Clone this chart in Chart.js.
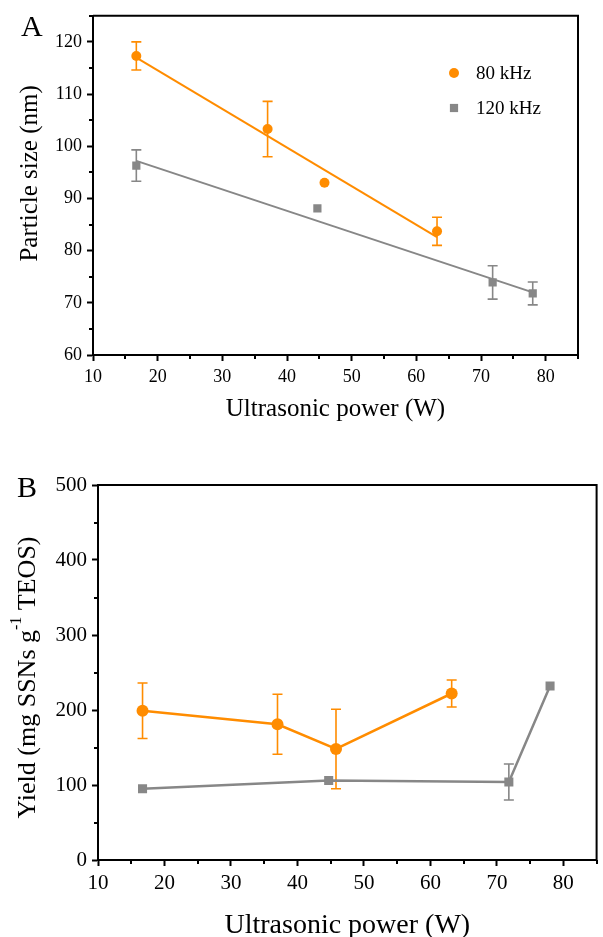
<!DOCTYPE html>
<html>
<head>
<meta charset="utf-8">
<script src="https://cdn.jsdelivr.net/npm/chart.js@4.4.1/dist/chart.umd.min.js"></script>
<style>
  body { margin: 0; background: #fff; width: 603px; height: 937px; position: relative; overflow: hidden; font-family: "Liberation Serif", serif; }
  .box { position: absolute; left: 0; width: 603px; }
  .tag { position: absolute; font-size: 30px; color: #000; line-height: 1; }
</style>
</head>
<body>
<div class="box" style="top:0;height:430px"><canvas id="chartA"></canvas></div>
<div class="box" style="top:455px;height:492px"><canvas id="chartB"></canvas></div>
<div class="tag" style="left:21px;top:11px">A</div>
<div class="tag" style="left:17px;top:472px">B</div>
<script>
// panel A - particle size vs ultrasonic power
const powerA80 = [16.7, 37.0, 45.8, 63.2];
const sizeA80 = [117.3, 103.3, 93.0, 83.7];
const sizeA80Err = [2.7, 5.3, 0, 2.7];
const powerA120 = [16.7, 44.7, 71.8, 78.0];
const sizeA120 = [96.3, 88.1, 73.9, 71.8];
const sizeA120Err = [3.0, 0, 3.2, 2.2];
// fitted lines, end points
const fitX80 = [16.7, 63.2];
const fitY80 = [117.0, 82.6];
const fitX120 = [16.7, 78.0];
const fitY120 = [97.2, 72.0];

// panel B - yield vs ultrasonic power
const yieldPower80 = [16.7, 37.0, 45.8, 63.2];
const yield80 = [199, 181, 148, 222];
const yield80Err = [37, 40, 53, 18];
const yieldPower120 = [16.7, 44.7, 71.8, 78.0];
const yield120 = [95, 106, 104, 232];
const yield120Err = [0, 0, 24, 0];

const seriesNames = ['80 kHz', '120 kHz'];

const ORANGE = '#ff8c00';
const GREY = '#878787';
const FONT = '"Liberation Serif", serif';

const pts = (xs, ys) => xs.map((x, i) => ({ x: x, y: ys[i] }));

function marker(ctx, style, r, x, y, color) {
  ctx.fillStyle = color;
  ctx.beginPath();
  if (style === 'circle') {
    ctx.arc(x, y, r, 0, Math.PI * 2);
  } else {
    const h = r / Math.SQRT2;
    ctx.rect(x - h, y - h, h * 2, h * 2);
  }
  ctx.fill();
}

const errorBars = {
  id: 'errorBars',
  beforeDatasetsDraw(chart) {
    const ctx = chart.ctx, xs = chart.scales.x, ys = chart.scales.y;
    chart.data.datasets.forEach(ds => {
      if (!ds.errors) return;
      ctx.save();
      ctx.strokeStyle = ds.barColor;
      ctx.lineWidth = 1.6;
      ds.data.forEach((p, i) => {
        const e = ds.errors[i];
        if (!e) return;
        const px = xs.getPixelForValue(p.x);
        const t = ys.getPixelForValue(p.y + e), b = ys.getPixelForValue(p.y - e);
        ctx.beginPath();
        ctx.moveTo(px, t); ctx.lineTo(px, b);
        ctx.moveTo(px - 5, t); ctx.lineTo(px + 5, t);
        ctx.moveTo(px - 5, b); ctx.lineTo(px + 5, b);
        ctx.stroke();
      });
      ctx.restore();
    });
  }
};

// top/right frame plus short minor ticks between the labelled ones
const frame = {
  id: 'frame',
  afterDraw(chart) {
    const a = chart.chartArea, ctx = chart.ctx, xs = chart.scales.x, ys = chart.scales.y;
    ctx.save();
    ctx.strokeStyle = '#000';
    ctx.lineWidth = 2;
    ctx.beginPath();
    ctx.moveTo(a.left, a.top); ctx.lineTo(a.right, a.top); ctx.lineTo(a.right, a.bottom);
    ctx.stroke();
    ctx.beginPath();
    const sx = xs.options.ticks.stepSize, sy = ys.options.ticks.stepSize;
    for (let v = xs.min + sx / 2; v <= xs.max; v += sx) {
      const p = Math.round(xs.getPixelForValue(v));
      ctx.moveTo(p, a.bottom); ctx.lineTo(p, a.bottom + 4);
    }
    for (let v = ys.min + sy / 2; v <= ys.max; v += sy) {
      const p = Math.round(ys.getPixelForValue(v));
      ctx.moveTo(a.left, p); ctx.lineTo(a.left - 4, p);
    }
    ctx.stroke();
    ctx.restore();
  }
};

const insideLegend = {
  id: 'insideLegend',
  afterDraw(chart, args, o) {
    if (!o.items) return;
    const ctx = chart.ctx;
    ctx.save();
    o.items.forEach((it, k) => {
      const ds = chart.data.datasets[it];
      const y = o.y + k * o.gap;
      if (o.line) {
        ctx.strokeStyle = ds.borderColor;
        ctx.lineWidth = ds.borderWidth;
        ctx.beginPath();
        ctx.moveTo(o.x - o.lineLen / 2, y); ctx.lineTo(o.x + o.lineLen / 2, y);
        ctx.stroke();
      }
      marker(ctx, ds.pointStyle, ds.pointRadius, o.x, y, ds.pointBackgroundColor);
      ctx.fillStyle = '#000';
      ctx.font = o.size + 'px ' + FONT;
      ctx.textBaseline = 'middle';
      ctx.fillText(ds.label, o.textX, y + 1);
    });
    ctx.restore();
  }
};

const yTitle = {
  id: 'yTitle',
  afterDraw(chart, args, o) {
    if (!o.parts) return;
    const ctx = chart.ctx, a = chart.chartArea;
    ctx.save();
    ctx.translate(o.x, (a.top + a.bottom) / 2 + (o.dy || 0));
    ctx.rotate(-Math.PI / 2);
    ctx.fillStyle = '#000';
    ctx.textBaseline = 'middle';
    const big = o.size + 'px ' + FONT, small = Math.round(o.size * 0.6) + 'px ' + FONT;
    let w = 0;
    o.parts.forEach(p => { ctx.font = p.sup ? small : big; w += ctx.measureText(p.text).width; });
    let x = -w / 2;
    o.parts.forEach(p => {
      ctx.font = p.sup ? small : big;
      ctx.fillText(p.text, x, p.sup ? -o.size * 0.42 : 0);
      x += ctx.measureText(p.text).width;
    });
    ctx.restore();
  }
};

function axisStyle(tickSize) {
  return {
    grid: { display: true, drawOnChartArea: false, drawTicks: true, tickLength: 6, tickColor: '#000', tickWidth: 2 },
    border: { display: true, color: '#000', width: 2 },
    ticks: { color: '#000', font: { family: FONT, size: tickSize }, padding: 5, autoSkip: false, maxRotation: 0, includeBounds: false }
  };
}

function makeScales(c) {
  const x = axisStyle(c.tickSize);
  x.type = 'linear'; x.min = 10; x.max = 85;
  x.ticks.stepSize = 10;
  x.afterBuildTicks = s => { s.ticks = s.ticks.filter(t => t.value % 10 === 0); };
  x.title = { display: true, text: 'Ultrasonic power (W)', color: '#000', font: { family: FONT, size: c.xTitleSize }, padding: { top: 0, bottom: c.xTitlePad } };
  x.afterFit = s => { s.height = c.xH; };
  const y = axisStyle(c.tickSize);
  y.min = c.ymin; y.max = c.ymax;
  y.ticks.stepSize = c.ystep;
  y.afterBuildTicks = s => { s.ticks = s.ticks.filter(t => t.value % c.ystep === 0); };
  y.afterFit = s => { s.width = c.yW; };
  return { x: x, y: y };
}

function baseOptions(c) {
  return {
    responsive: true,
    maintainAspectRatio: false,
    animation: false,
    layout: { padding: { top: c.padTop, right: c.padRight, left: 0, bottom: 0 } },
    scales: makeScales(c),
    plugins: { legend: { display: false }, tooltip: { enabled: false } }
  };
}

// chart A
const optsA = baseOptions({ tickSize: 18, xTitleSize: 25, xTitlePad: 6, xH: 75, yW: 93, ymin: 60, ymax: 125, ystep: 10, padTop: 14, padRight: 25 });
optsA.plugins.insideLegend = { items: [2, 3], x: 454, y: 73, gap: 35, textX: 476, size: 19, line: false };
optsA.plugins.yTitle = { parts: [{ text: 'Particle size (nm)' }], x: 30, size: 25, dy: -12 };

new Chart(document.getElementById('chartA'), {
  type: 'scatter',
  data: {
    datasets: [
      { label: 'fit 80', data: pts(fitX80, fitY80), showLine: true, borderColor: ORANGE, borderWidth: 2, pointRadius: 0 },
      { label: 'fit 120', data: pts(fitX120, fitY120), showLine: true, borderColor: GREY, borderWidth: 2, pointRadius: 0 },
      { label: seriesNames[0], data: pts(powerA80, sizeA80), errors: sizeA80Err, barColor: ORANGE, pointStyle: 'circle', pointRadius: 5, pointBackgroundColor: ORANGE, pointBorderWidth: 0, borderColor: ORANGE },
      { label: seriesNames[1], data: pts(powerA120, sizeA120), errors: sizeA120Err, barColor: GREY, pointStyle: 'rect', pointRadius: 5.8, pointBackgroundColor: GREY, pointBorderWidth: 0, borderColor: GREY }
    ]
  },
  options: optsA,
  plugins: [errorBars, frame, insideLegend, yTitle]
});

// chart B
const optsB = baseOptions({ tickSize: 21, xTitleSize: 28, xTitlePad: 5, xH: 87, yW: 98, ymin: 0, ymax: 500, ystep: 100, padTop: 30, padRight: 2 });
optsB.plugins.insideLegend = { items: [0, 1], x: 480, y: 559, gap: 28, lineLen: 42, textX: 506, size: 22, line: true };
optsB.plugins.yTitle = { parts: [{ text: 'Yield (mg SSNs g' }, { text: '-1', sup: true }, { text: ' TEOS)' }], x: 28, size: 26, dy: 5 };

new Chart(document.getElementById('chartB'), {
  type: 'scatter',
  data: {
    datasets: [
      { label: seriesNames[0], data: pts(yieldPower80, yield80), errors: yield80Err, barColor: ORANGE, showLine: true, borderColor: ORANGE, borderWidth: 2.5, pointStyle: 'circle', pointRadius: 6, pointBackgroundColor: ORANGE, pointBorderWidth: 0 },
      { label: seriesNames[1], data: pts(yieldPower120, yield120), errors: yield120Err, barColor: GREY, showLine: true, borderColor: GREY, borderWidth: 2.5, pointStyle: 'rect', pointRadius: 6.4, pointBackgroundColor: GREY, pointBorderWidth: 0 }
    ]
  },
  options: optsB,
  plugins: [errorBars, frame, insideLegend, yTitle]
});
</script>
</body>
</html>
